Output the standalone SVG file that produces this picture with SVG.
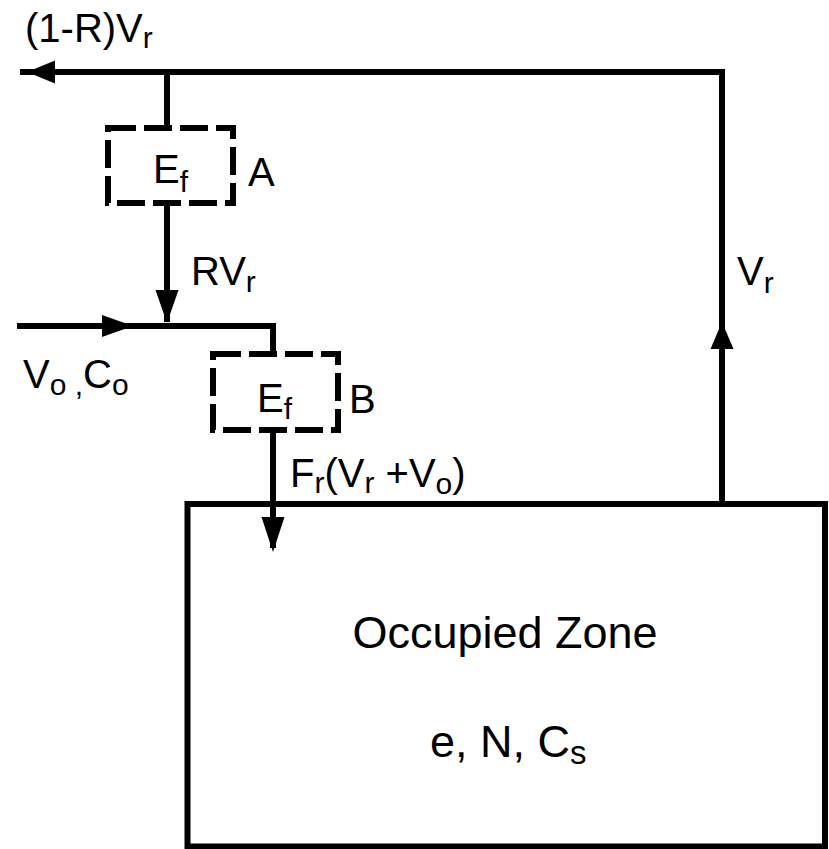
<svg xmlns="http://www.w3.org/2000/svg" width="829" height="849" viewBox="0 0 829 849">
<style>
  .ln { fill: none; stroke: #000; stroke-width: 6; }
  .dash { fill: #fff; stroke: #000; stroke-width: 6; stroke-dasharray: 28 8; }
  .box { fill: #fff; stroke: #000; stroke-width: 6; }
  .ah { fill: #000; stroke: none; }
  text { font-family: "Liberation Sans", Arial, sans-serif; font-size: 40px; fill: #000; }
  .sub { font-size: 30px; }
  .big { font-size: 45px; }
  .bigsub { font-size: 33px; }
</style>
<rect width="829" height="849" fill="#fff"/>
<g id="zone">
  <rect class="box" x="187.5" y="504" width="637.5" height="342.5"/>
  <text class="big" x="505" y="648" text-anchor="middle">Occupied Zone</text>
  <text class="big" x="430" y="757">e, N, C<tspan class="bigsub" y="764">s</tspan></text>
</g>
<g id="filterA">
  <rect class="dash" x="108" y="128" width="125" height="75"/>
  <text x="153" y="183">E<tspan class="sub" y="192">f</tspan></text>
  <text x="248" y="186">A</text>
</g>
<g id="filterB">
  <rect class="dash" x="213" y="354" width="125" height="76"/>
  <text x="257" y="412">E<tspan class="sub" y="419">f</tspan></text>
  <text x="349" y="413">B</text>
</g>
<g id="connectors">
  <path class="ln" d="M20,72 H722 V504"/>
  <path class="ln" d="M167,72 V125"/>
  <path class="ln" d="M167,206 V322"/>
  <path class="ln" d="M17,326 H273 V351"/>
  <path class="ln" d="M273,433 V548"/>
  <polygon class="ah" points="27,72 55,60.5 55,83.5"/>
  <polygon class="ah" points="167,323 155.5,290 178.5,290"/>
  <polygon class="ah" points="133,326 102,315 102,337"/>
  <polygon class="ah" points="273,552 261.5,517 284.5,517"/>
  <polygon class="ah" points="722,322 710.5,349 733.5,349"/>
</g>
<g id="labels">
  <text x="25" y="42">(1-R)V<tspan class="sub" y="48">r</tspan></text>
  <text x="191" y="285">RV<tspan class="sub" y="292">r</tspan></text>
  <text x="737" y="285">V<tspan class="sub" y="293">r</tspan></text>
  <text x="23" y="388">V<tspan class="sub" y="395">o ,</tspan><tspan y="388">C</tspan><tspan class="sub" y="395">o</tspan></text>
  <text x="290" y="487">F<tspan class="sub" y="493">r</tspan><tspan y="487">(V</tspan><tspan class="sub" y="493">r</tspan><tspan y="487"> +V</tspan><tspan class="sub" y="494">o</tspan><tspan y="487">)</tspan></text>
</g>
</svg>
